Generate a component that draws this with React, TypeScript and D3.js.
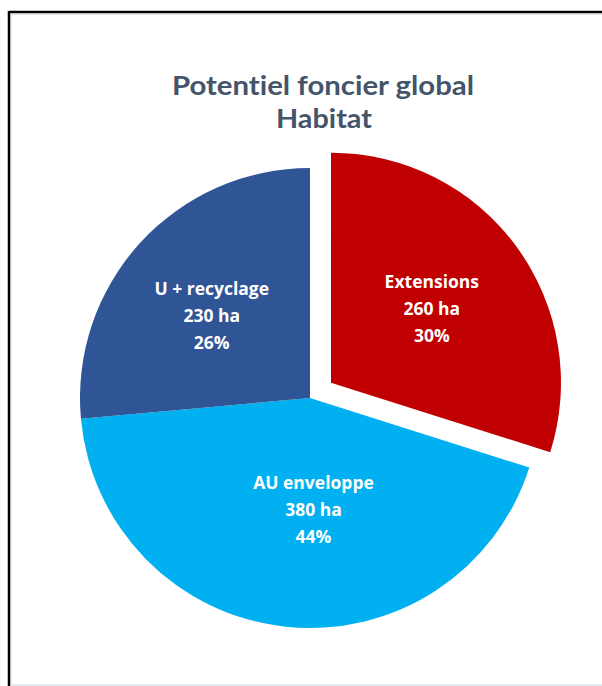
import React from "react";
import * as d3 from "d3";

const categories = ["Extensions", "AU enveloppe", "U + recyclage"];
const hectares = [260, 380, 230];
const percents = ["30%", "44%", "26%"];
const colors = ["#C00000", "#00B0F0", "#2F5597"];
const exploded = [true, false, false];
const titleLines = ["Potentiel foncier global", "Habitat"];

// layout nudges for label placement (Excel "best fit")
const labelNudge: [number, number][] = [
  [0, 0],
  [17, -12],
  [-6, 2],
];

const W = 602;
const H = 686;
const cx = 310;
const cy = 398;
const R = 230;
const explodeDist = 26;
const labelR = 125;

export default function App() {
  const pie = d3
    .pie<number>()
    .sort(null)
    .value((d) => d);
  const arcs = pie(hectares);
  const arcGen = d3.arc<d3.PieArcDatum<number>>().innerRadius(0).outerRadius(R);
  const labelArc = d3
    .arc<d3.PieArcDatum<number>>()
    .innerRadius(labelR)
    .outerRadius(labelR);

  return (
    <svg
      width={W}
      height={H}
      style={{ position: "absolute", left: 0, top: 0, background: "#fff" }}
    >
      <rect x={0} y={0} width={W} height={H} fill="#fff" />
      {/* frame */}
      <line x1={11} y1={14.5} x2={W} y2={14.5} stroke="#e4e4e4" strokeWidth={1} />
      <line x1={11.5} y1={14} x2={11.5} y2={H} stroke="#e8e8e8" strokeWidth={1} />
      <line x1={11} y1={685} x2={W} y2={685} stroke="#dde6ee" strokeWidth={1.5} />
      <line x1={9} y1={12} x2={W} y2={12} stroke="#000" strokeWidth={2.5} />
      <line x1={9} y1={11} x2={9} y2={H} stroke="#000" strokeWidth={2.5} />

      {/* title */}
      <g
        fill="#44546A"
        fontFamily="Lato, 'Open Sans', sans-serif"
        fontWeight={700}
        fontSize={27}
        textAnchor="middle"
        style={{ fontVariantLigatures: "none" }}
      >
        <text x={323} y={95} textLength={302} lengthAdjust="spacingAndGlyphs">
          {titleLines[0]}
        </text>
        <text x={324} y={128} textLength={96} lengthAdjust="spacingAndGlyphs">
          {titleLines[1]}
        </text>
      </g>

      <g transform={`translate(${cx},${cy})`}>
        {arcs.map((a, i) => {
          const mid = (a.startAngle + a.endAngle) / 2;
          const off = exploded[i] ? explodeDist : 0;
          const dx = Math.sin(mid) * off;
          const dy = -Math.cos(mid) * off;
          const [cxL, cyL] = labelArc.centroid(a);
          const lx = cxL + labelNudge[i][0];
          const ly = cyL + labelNudge[i][1];
          return (
            <g key={categories[i]} transform={`translate(${dx},${dy})`}>
              <path d={arcGen(a) || ""} fill={colors[i]} />
              <text
                x={lx}
                y={ly}
                fill="#fff"
                fontFamily="'Open Sans', Lato, sans-serif"
                fontWeight={700}
                fontSize={17.5}
                textAnchor="middle"
              >
                <tspan x={lx} dy={-21}>
                  {categories[i]}
                </tspan>
                <tspan x={lx} dy={27}>
                  {`${hectares[i]} ha`}
                </tspan>
                <tspan x={lx} dy={27}>
                  {percents[i]}
                </tspan>
              </text>
            </g>
          );
        })}
      </g>
    </svg>
  );
}
